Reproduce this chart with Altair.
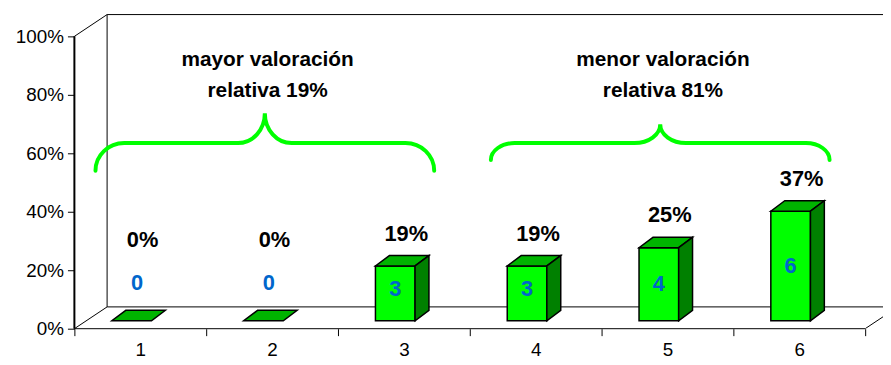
import re
import altair as alt
import pandas as pd

# ---------------- data ----------------
categories = [1, 2, 3, 4, 5, 6]
counts = [0, 0, 3, 3, 4, 6]
total_count = 16
pct_labels = ["0%", "0%", "19%", "19%", "25%", "37%"]
y_ticks = [0, 20, 40, 60, 80, 100]
group_first = [1, 4]
group_last = [3, 6]
group_line1 = ["mayor valoración", "menor valoración"]
group_line2 = ["relativa 19%", "relativa 81%"]

# ---------------- geometry (pixels -> data units) ----------------
PX_X = 133.0          # pixels per category
PX_Y = 2.95           # pixels per percent
WALL_DX = 33 / PX_X   # depth of the 3D box
WALL_DY = 22 / PX_Y
BAR_BASE = 8 / PX_Y
BAR_W = 40 / PX_X
BAR_SHIFT = -8.7 / PX_X
SIDE_DX = 14 / PX_X
SIDE_DY = 10.5 / PX_Y
YMAX = 100 + WALL_DY
PLOT_W = 816
PLOT_H = round(YMAX * PX_Y)
XMAX = PLOT_W / PX_X
NCAT = len(categories)

FONT = "Liberation Sans"
GREEN_FRONT = "#00FF00"
GREEN_TOP = "#00B400"
GREEN_SIDE = "#008000"
BLUE = "#0066CC"

xs = alt.Scale(domain=[0, XMAX], nice=False, zero=False)
ys = alt.Scale(domain=[0, YMAX], nice=False, zero=False)

x_axis = alt.Axis(
    title=None, values=list(range(NCAT + 1)), domain=False, grid=False,
    labelExpr=f"datum.value < {NCAT} ? '' + (datum.value + 1) : ''",
    labelOffset=PX_X / 2, labelFlush=False, labelOverlap=False, labelBound=False,
    tickSize=7, tickColor="black", tickWidth=1,
    labelFont=FONT, labelFontSize=19, labelColor="black", labelPadding=5,
)
y_axis = alt.Axis(
    title=None, values=y_ticks, domain=False, grid=False,
    labelExpr="datum.value + '%'",
    tickSize=7, tickColor="black", tickWidth=1,
    labelFont=FONT, labelFontSize=19, labelColor="black", labelPadding=4,
)


def X(f):
    return alt.X(f, type="quantitative", scale=xs, axis=x_axis, title=None, stack=None)


def Y(f):
    return alt.Y(f, type="quantitative", scale=ys, axis=y_axis, title=None, stack=None)


# ---------------- frame (3D box) ----------------
vframe = pd.DataFrame([
    dict(x=WALL_DX, y=WALL_DY, y2=100 + WALL_DY),
])
vframe_layer = alt.Chart(vframe).mark_rule(color="black", strokeWidth=1).encode(
    x=X("x"), y=Y("y"), y2="y2")
frame = pd.DataFrame([
    dict(x=0.0, x2=float(NCAT), y=0.0, y2=0.0),
    dict(x=0.0, x2=WALL_DX, y=0.0, y2=WALL_DY),
    dict(x=0.0, x2=WALL_DX, y=100.0, y2=100 + WALL_DY),
    dict(x=WALL_DX, x2=XMAX, y=WALL_DY, y2=WALL_DY),
    dict(x=WALL_DX, x2=XMAX, y=100 + WALL_DY, y2=100 + WALL_DY),
])
frame_layer = alt.Chart(frame).mark_rule(color="black", strokeWidth=1).encode(
    x=X("x"), x2="x2", y=Y("y"), y2="y2")
right_diag = pd.DataFrame([dict(x=float(NCAT), x2=NCAT + WALL_DX, y=0.0, y2=WALL_DY)])
right_layer = alt.Chart(right_diag).mark_rule(color="black", strokeWidth=1, clip=True).encode(
    x=X("x"), x2="x2", y=Y("y"), y2="y2")
# front value axis line (drawn last)
yline = pd.DataFrame([dict(x=0.0, y=0.0, y2=100.0)])
yline_layer = alt.Chart(yline).mark_rule(color="black", strokeWidth=2).encode(
    x=X("x"), y=Y("y"), y2="y2")

# ---------------- bars ----------------
front_rows, top_rows, side_rows, pct_rows, cnt_rows = [], [], [], [], []
for i, (cat, c, lab) in enumerate(zip(categories, counts, pct_labels)):
    v = c / total_count * 100
    cx = i + 0.5 + BAR_SHIFT
    L, R = cx - BAR_W / 2, cx + BAR_W / 2
    base, top = BAR_BASE, BAR_BASE + v
    if v > 0:
        front_rows.append(dict(bar=cat, L=L, R=R, base=base, top=top))
        side_rows.append(dict(bar=cat, x=R, y=top, y2=base))
        side_rows.append(dict(bar=cat, x=R + SIDE_DX, y=top + SIDE_DY, y2=base + SIDE_DY))
    top_rows.append(dict(bar=cat, y=top, x=L, x2=R))
    top_rows.append(dict(bar=cat, y=top + SIDE_DY, x=L + SIDE_DX, x2=R + SIDE_DX))
    pct_rows.append(dict(x=cx + 0.083, y=BAR_BASE + SIDE_DY + max(v, 16.5) + 22 / PX_Y, t=lab))
    cnt_rows.append(dict(x=cx + (0.04 if v == 0 else 0), y=BAR_BASE + max(v, 22) / 2 + (2 if v == 0 else 0), t=str(c)))

front_layer = alt.Chart(pd.DataFrame(front_rows)).mark_rect(
    fill=GREEN_FRONT, stroke="black", strokeWidth=1.5).encode(
    x=X("L"), x2="R", y=Y("base"), y2="top")
top_layer = alt.Chart(pd.DataFrame(top_rows)).mark_area(
    orient="horizontal", fill=GREEN_TOP, stroke="black", strokeWidth=1.5, opacity=1).encode(
    y=Y("y"), x=X("x"), x2="x2", detail="bar:N")
side_layer = alt.Chart(pd.DataFrame(side_rows)).mark_area(
    orient="vertical", fill=GREEN_SIDE, stroke="black", strokeWidth=1.5, opacity=1).encode(
    x=X("x"), y=Y("y"), y2="y2", detail="bar:N")

pct_layer = alt.Chart(pd.DataFrame(pct_rows)).mark_text(
    font=FONT, fontSize=22, fontWeight="bold", color="black", baseline="middle").encode(
    x=X("x"), y=Y("y"), text="t:N")
cnt_layer = alt.Chart(pd.DataFrame(cnt_rows)).mark_text(
    font=FONT, fontSize=22, fontWeight="bold", color=BLUE, baseline="middle").encode(
    x=X("x"), y=Y("y"), text="t:N")

# ---------------- braces ----------------
K = 0.5523


def brace_path(W, E, rx, tx, T):
    pts = [
        f"M{-W},{E}",
        f"C{-W},{E - K * E} {-W + rx - K * rx},0 {-W + rx},0",
        f"L{-tx},0",
        f"C{-tx + K * tx},0 0,{-T + K * T} 0,{-T}",
        f"C0,{-T + K * T} {tx - K * tx},0 {tx},0",
        f"L{W - rx},0",
        f"C{W - rx + K * rx},0 {W},{E - K * E} {W},{E}",
    ]
    raw = " ".join(pts)

    def norm(m):
        return f"{float(m.group(0)) / W:.4f}"
    return re.sub(r"-?\d+(\.\d+)?", norm, raw)


BRACE_IN_L = 0.16
BRACE_IN_R = 0.27
BRACE_LEVEL = 63.5
brace_params = [
    dict(E=28, rx=29, tx=27, T=30),
    dict(E=17, rx=24, tx=26, T=19),
]
brace_layers = []
for g, (a, b) in enumerate(zip(group_first, group_last)):
    x0 = a - 1 + BRACE_IN_L
    x1 = b - BRACE_IN_R
    W = (x1 - x0) * PX_X / 2
    p = brace_params[g]
    path = brace_path(W, p["E"], p["rx"], p["tx"], p["T"])
    df = pd.DataFrame([dict(x=(x0 + x1) / 2, y=BRACE_LEVEL)])
    brace_layers.append(
        alt.Chart(df).mark_point(
            shape=path, size=(2 * W) ** 2, filled=False, stroke=GREEN_FRONT,
            strokeWidth=4, opacity=1, strokeCap="round").encode(x=X("x"), y=Y("y"))
    )

txt_rows = []
for g, (a, b) in enumerate(zip(group_first, group_last)):
    xc = (a - 1 + b) / 2 - 0.034
    txt_rows.append(dict(x=xc, y=91.9, t=group_line1[g]))
    txt_rows.append(dict(x=xc, y=81.2, t=group_line2[g]))
txt_layer = alt.Chart(pd.DataFrame(txt_rows)).mark_text(
    font=FONT, fontSize=21, fontWeight="bold", color="black", baseline="middle").encode(
    x=X("x"), y=Y("y"), text="t:N")

chart = alt.layer(
    vframe_layer, frame_layer, right_layer, *brace_layers, front_layer, top_layer, side_layer,
    pct_layer, cnt_layer, txt_layer, yline_layer,
).properties(
    width=PLOT_W, height=PLOT_H,
    autosize=alt.AutoSizeParams(type="none"),
    padding={"left": 67, "top": 5, "right": 0, "bottom": 35},
    background="white",
).configure_view(stroke=None)

chart.save("out.html", embed_options={"renderer": "svg", "actions": False})
